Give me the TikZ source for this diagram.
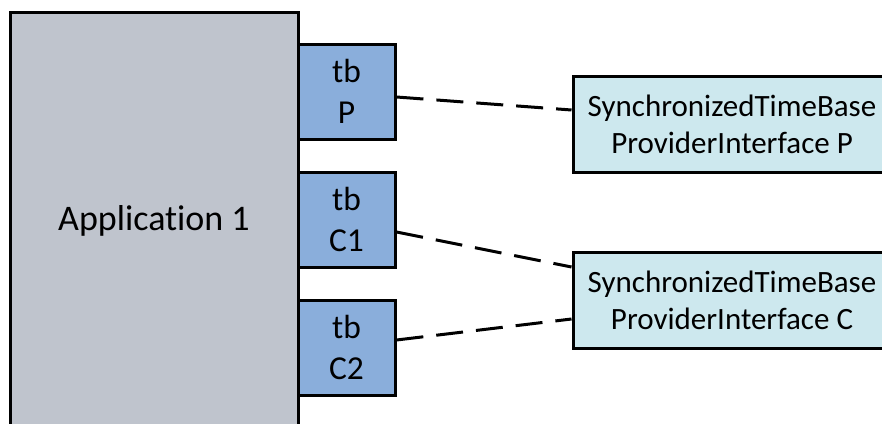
\documentclass[tikz,border=0pt]{standalone}
\usepackage{fontspec}
\setmainfont[Ligatures=NoCommon]{Carlito}
\definecolor{appgray}{RGB}{191,196,205}
\definecolor{tbblue}{RGB}{138,174,219}
\definecolor{ifcyan}{RGB}{205,232,238}
\begin{document}
\begin{tikzpicture}[x=1pt,y=-1pt,
  box/.style={draw=black,line width=3pt,inner sep=0pt,align=center},
  conn/.style={line width=3pt,dash pattern=on 27pt off 13pt}]
\useasboundingbox (0,0) rectangle (882,423);
\clip (0,0) rectangle (882,423);
\node[box,fill=appgray,minimum width=288pt,minimum height=418pt,font=\fontsize{36}{44}\selectfont] (app) at (154,221) {Application 1};
\tikzset{tb/.style={box,fill=tbblue,minimum width=97pt,minimum height=95pt,font=\fontsize{33.5}{41}\selectfont},
  iface/.style={box,fill=ifcyan,minimum width=318pt,minimum height=96pt,font=\fontsize{31}{37}\selectfont}}
\node[tb] (tbP) at (346.5,91.5) {tb\\P};
\node[tb] (tbC1) at (346.5,219.5) {tb\\C1};
\node[tb] (tbC2) at (346.5,347.5) {tb\\C2};
\node[iface] (ifP) at (732,124) {SynchronizedTimeBase\\ProviderInterface P};
\node[iface] (ifC) at (732,300) {SynchronizedTimeBase\\ProviderInterface C};
\draw[conn] ([yshift=-5.5pt]tbP.east) -- ([yshift=14pt]ifP.west);
\draw[conn] ([yshift=-12.5pt]tbC1.east) -- ([yshift=33pt]ifC.west);
\draw[conn] ([yshift=7.5pt]tbC2.east) -- ([yshift=-19pt]ifC.west);
\end{tikzpicture}
\end{document}
